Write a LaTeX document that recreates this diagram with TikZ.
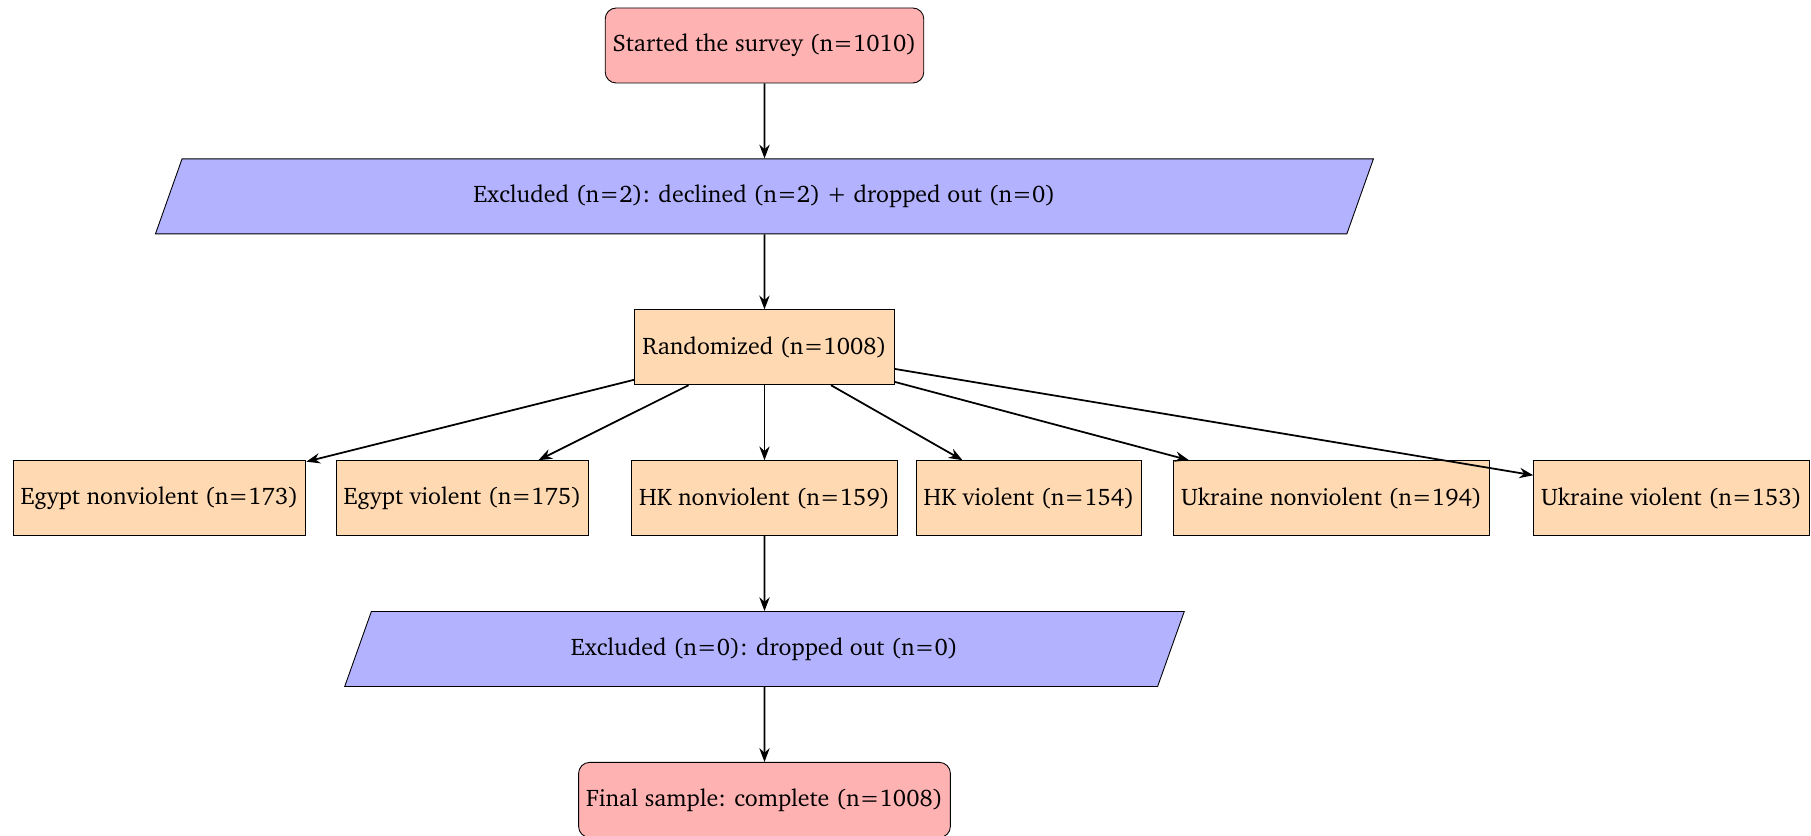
\documentclass[tikz,border=0pt]{standalone}
\usepackage[T1]{fontenc}
\usepackage{charter}
\usepackage{xcolor}
\usepackage{tikz}
\usetikzlibrary{arrows.meta,positioning,shapes.geometric}
\tikzset{
  startstop/.style={rectangle, rounded corners=5pt, draw=black, fill=red!30,
    align=center, minimum height=12mm, inner xsep=3.4pt, font=\fontsize{10.9}{13.4}\selectfont},
  excl/.style={trapezium, trapezium left angle=70, trapezium right angle=110,
    trapezium stretches=true, draw=black, fill=blue!30, align=center,
    minimum height=12mm, font=\fontsize{10.9}{13.4}\selectfont},
  group/.style={rectangle, draw=black, fill=orange!30, align=center,
    minimum height=12mm, inner xsep=3.4pt, font=\fontsize{10.9}{13.4}\selectfont},
  arr/.style={-{Stealth[length=2.2mm]}, thick, draw=black},
}
\begin{document}
\begin{tikzpicture}[node distance=12mm]
  \useasboundingbox (0,0) rectangle (28.976,-13.376);
  \node[startstop] (start) at (12.232,-0.728) {Started the survey (n=1010)};
  \node[excl, below=of start, minimum width=19.55cm] (excla) {Excluded (n=2): declined (n=2) + dropped out (n=0)};
  \node[group, below=of excla] (rand) {Randomized (n=1008)};
  \node[group, below=of rand] (hknv) {HK nonviolent (n=159)};
  \node[group] (egnv) at (2.552,0 |- hknv) {Egypt nonviolent (n=173)};
  \node[group] (egv) at (7.40,0 |- hknv) {Egypt violent (n=175)};
  \node[group] (hkv) at (16.464,0 |- hknv) {HK violent (n=154)};
  \node[group] (uknv) at (21.304,0 |- hknv) {Ukraine nonviolent (n=194)};
  \node[group] (ukv) at (26.744,0 |- hknv) {Ukraine violent (n=153)};
  \node[excl, below=of hknv, minimum width=13.46cm] (exclb) {Excluded (n=0): dropped out (n=0)};
  \node[startstop, below=of exclb] (final) {Final sample: complete (n=1008)};
  % flow
  \draw[arr] (start) -- (excla);
  \draw[arr] (excla) -- (rand);
  \foreach \g in {egnv,egv,hknv,hkv,uknv,ukv}
    \draw[arr] (rand) -- (\g);
  \draw[arr] (hknv) -- (exclb);
  \draw[arr] (exclb) -- (final);
\end{tikzpicture}
\end{document}
